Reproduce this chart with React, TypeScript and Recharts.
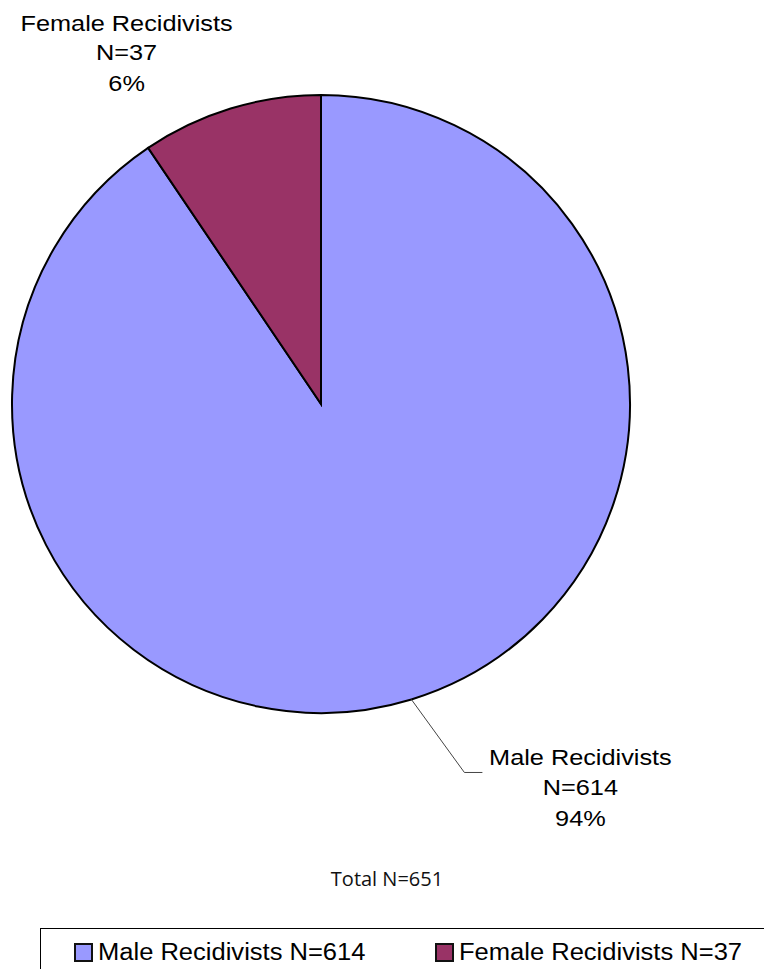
import React from 'react';
import { PieChart, Pie, Cell, Legend, Customized } from 'recharts';

const categories = ['Male Recidivists', 'Female Recidivists'];
const counts = [614, 37];
const percentLabels = ['94%', '6%'];
// slice sizes as drawn in the reference picture (angle share, %)
const sliceShare = [90.55, 9.45];
const colors = ['#9999FF', '#993366'];
const totalLabel = 'Total N=651';

const data = categories.map((c, i) => ({
  name: c,
  legendName: `${c} N=${counts[i]}`,
  count: counts[i],
  pct: percentLabels[i],
  share: sliceShare[i],
}));

const RAD = Math.PI / 180;
const polar = (cx: number, cy: number, r: number, a: number) => ({
  x: cx + r * Math.cos(-a * RAD),
  y: cy + r * Math.sin(-a * RAD),
});

const FONT = '"Liberation Sans", Arial, sans-serif';

const renderLabel = (props: any) => {
  const { cx, cy, midAngle, outerRadius, index } = props;
  const e = polar(cx, cy, outerRadius, midAngle);
  const d = data[index];
  const lines = [d.name, `N=${d.count}`, d.pct];
  if (index === 0) {
    const p1 = { x: e.x + 53, y: e.y + 73 };
    const p2 = { x: p1.x + 18, y: p1.y };
    const tx = e.x + 169;
    const base = [e.y + 65.5, e.y + 95.5, e.y + 127];
    return (
      <g>
        <polyline
          points={`${e.x},${e.y} ${p1.x},${p1.y} ${p2.x},${p2.y}`}
          fill="none"
          stroke="#444"
          strokeWidth={1}
        />
        {lines.map((t, i) => (
          <text
            key={i}
            transform={`translate(${tx},${base[i]}) scale(1.15,1)`}
            textAnchor="middle"
            fontFamily={FONT}
            fontSize={22}
            fill="#000"
          >
            {t}
          </text>
        ))}
      </g>
    );
  }
  const tx = e.x - 104;
  const base = [e.y - 77.5, e.y - 48.5, e.y - 18];
  return (
    <g>
      {lines.map((t, i) => (
        <text
          key={i}
          transform={`translate(${tx},${base[i]}) scale(1.15,1)`}
          textAnchor="middle"
          fontFamily={FONT}
          fontSize={22}
          fill="#000"
        >
          {t}
        </text>
      ))}
    </g>
  );
};

const legendOffsets = [33, 394];

const renderLegend = (props: any) => {
  const payload = [...(props.payload || [])].sort(
    (a: any, b: any) =>
      data.findIndex((d) => d.legendName === a.value) -
      data.findIndex((d) => d.legendName === b.value)
  );
  return (
    <div style={{ position: 'relative', width: '100%', height: '100%' }}>
      {payload.map((entry: any, i: number) => (
        <div
          key={i}
          style={{ position: 'absolute', left: legendOffsets[i], top: 0, height: 50 }}
        >
          <div
            style={{
              position: 'absolute',
              left: 0,
              top: 14,
              width: 15,
              height: 15,
              background: entry.color,
              border: '2px solid #111',
            }}
          />
          <span
            style={{
              position: 'absolute',
              left: 24,
              top: 10,
              whiteSpace: 'nowrap',
              fontFamily: FONT,
              fontSize: 23,
              lineHeight: 'normal',
              color: '#000',
              transform: 'scaleX(1.11)',
              transformOrigin: 'left center',
            }}
          >
            {entry.value}
          </span>
        </div>
      ))}
    </div>
  );
};

const TotalText = () => (
  <text
    x={387}
    y={886}
    textAnchor="middle"
    fontFamily='"Open Sans", Carlito, Calibri, sans-serif'
    fontSize={20}
    fill="#111"
  >
    {totalLabel}
  </text>
);

export default function App() {
  return (
    <div
      style={{
        position: 'absolute',
        left: 0,
        top: 0,
        width: 764,
        height: 969,
        overflow: 'hidden',
        background: '#fff',
      }}
    >
      <PieChart width={764} height={969}>
        <Pie
          data={data}
          dataKey="share"
          nameKey="legendName"
          cx={316}
          cy={399}
          outerRadius={309}
          startAngle={90}
          endAngle={-270}
          stroke="#000"
          strokeWidth={2}
          label={renderLabel}
          labelLine={false}
          isAnimationActive={false}
        >
          {data.map((d, i) => (
            <Cell key={d.name} fill={colors[i]} />
          ))}
        </Pie>
        <Customized component={TotalText} />
        <Legend
          content={renderLegend}
          wrapperStyle={{
            position: 'absolute',
            left: 40,
            top: 928,
            width: 760,
            height: 60,
            border: '1px solid #000',
            boxSizing: 'border-box',
            margin: 0,
          }}
        />
      </PieChart>
    </div>
  );
}
